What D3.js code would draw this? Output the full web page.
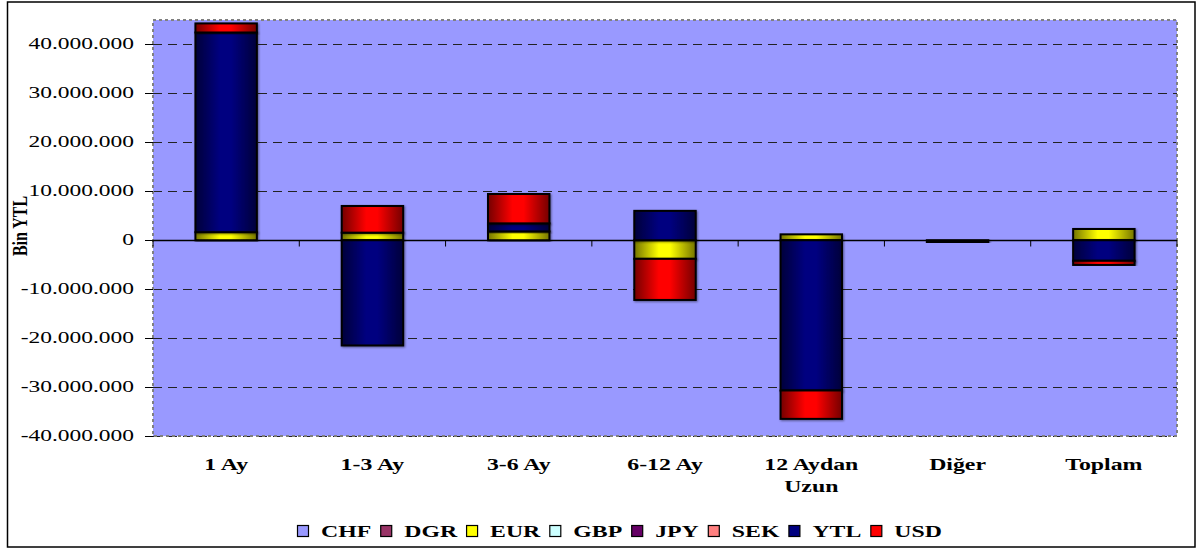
<!DOCTYPE html>
<html>
<head>
<meta charset="utf-8">
<script src="https://cdn.jsdelivr.net/npm/d3@7"></script>
<style>
  body { margin: 0; background: #fff; }
  svg { display: block; }
  text { font-family: "Liberation Serif", "Times New Roman", serif; fill: #000; }
</style>
</head>
<body>
<svg id="chart" width="1198" height="552"></svg>
<script>
// categories on the x axis (\n = line break in the label)
var categories = ["1 Ay", "1-3 Ay", "3-6 Ay", "6-12 Ay", "12 Aydan\nUzun", "Diğer", "Toplam"];
var currencies = ["CHF", "DGR", "EUR", "GBP", "JPY", "SEK", "YTL", "USD"];
var colors = ["#9999ff", "#993366", "#ffff00", "#ccffff", "#660066", "#ff8080", "#000080", "#ff0000"];

// values in Bin YTL, one per category
var valCHF = [0, 0, 0, 0, 0, 0, 0];
var valDGR = [0, 0, 0, 0, 0, 0, 0];
var valEUR = [1650000, 1550000, 1800000, -3800000, 1200000, 0, 2300000];
var valGBP = [0, 0, 0, 0, 0, 0, 0];
var valJPY = [0, 0, 0, 0, 0, 0, 0];
var valSEK = [0, 0, 0, 0, 0, 0, 0];
var valYTL = [40800000, -21500000, 1650000, 6000000, -30700000, -400000, -4200000];
var valUSD = [1850000, 5450000, 6000000, -8400000, -5800000, 0, -850000];

var yTicks = [-40000000, -30000000, -20000000, -10000000, 0, 10000000, 20000000, 30000000, 40000000];
var yTitle = "Bin YTL";

var seriesValues = [valCHF, valDGR, valEUR, valGBP, valJPY, valSEK, valYTL, valUSD];

// build rows for d3.stack
var rows = categories.map(function(c, i) {
    var r = { cat: c };
    currencies.forEach(function(k, j) { r[k] = seriesValues[j][i]; });
    return r;
});

var stacked = d3.stack()
    .keys(currencies)
    .offset(d3.stackOffsetDiverging)(rows);

var svg = d3.select("#chart");
var plot = { left: 153, right: 1177, top: 20, bottom: 436 };
var stretch = 1.36; // the original text is drawn wide

var x = d3.scaleBand()
    .domain(categories)
    .range([plot.left, plot.right])
    .paddingInner(0.58)
    .paddingOuter(0.29);

var y = d3.scaleLinear()
    .domain([-40000000, 45000000])
    .range([plot.bottom, plot.top]);

var fmt = d3.formatLocale({ decimal: ",", thousands: ".", grouping: [3], currency: ["", ""], minus: "-" }).format(",");

// gradients for the bars (dark edges, bright middle)
var defs = svg.append("defs");
colors.forEach(function(c, i) {
    var g = defs.append("linearGradient").attr("id", "grad" + i)
        .attr("x1", 0).attr("x2", 1).attr("y1", 0).attr("y2", 0);
    var dark = d3.color(c).darker(2.2).formatHex();
    g.append("stop").attr("offset", "0%").attr("stop-color", dark);
    g.append("stop").attr("offset", "40%").attr("stop-color", c);
    g.append("stop").attr("offset", "58%").attr("stop-color", c);
    g.append("stop").attr("offset", "100%").attr("stop-color", dark);
});
var shadow = defs.append("filter").attr("id", "shadow")
    .attr("x", "-20%").attr("y", "-20%").attr("width", "140%").attr("height", "140%");
shadow.append("feDropShadow").attr("dx", 1).attr("dy", 1)
    .attr("stdDeviation", 1.2).attr("flood-color", "#000").attr("flood-opacity", 0.45);

// outer chart border
svg.append("rect")
    .attr("x", 7.5).attr("y", 2).attr("width", 1187.5).attr("height", 545)
    .attr("fill", "#fff").attr("stroke", "#000").attr("stroke-width", 1.5);

// plot area
svg.append("rect")
    .attr("x", plot.left).attr("y", plot.top)
    .attr("width", plot.right - plot.left).attr("height", plot.bottom - plot.top)
    .attr("fill", "#9999ff");

// gridlines
svg.append("g").selectAll("line")
    .data(yTicks.filter(function(d) { return d != 0; }))
    .enter().append("line")
    .attr("x1", plot.left).attr("x2", plot.right)
    .attr("y1", function(d) { return Math.round(y(d)) + 0.5; })
    .attr("y2", function(d) { return Math.round(y(d)) + 0.5; })
    .attr("stroke", "#222").attr("stroke-width", 1.2)
    .attr("stroke-dasharray", "9,6");

// plot border (dashed grey)
svg.append("rect")
    .attr("x", plot.left).attr("y", plot.top)
    .attr("width", plot.right - plot.left).attr("height", plot.bottom - plot.top)
    .attr("fill", "none").attr("stroke", "#808080").attr("stroke-width", 2)
    .attr("stroke-dasharray", "3,3");

// y axis ticks and labels
var yAxis = svg.append("g");
yAxis.selectAll("line")
    .data(yTicks).enter().append("line")
    .attr("x1", 145).attr("x2", plot.left)
    .attr("y1", function(d) { return Math.round(y(d)) + 0.5; })
    .attr("y2", function(d) { return Math.round(y(d)) + 0.5; })
    .attr("stroke", "#000").attr("stroke-width", 1);
yAxis.selectAll("text")
    .data(yTicks).enter().append("text")
    .attr("transform", function(d) { return "translate(134," + (y(d) + 4.5) + ") scale(" + (stretch + 0.02) + ",1)"; })
    .attr("text-anchor", "end")
    .style("font-size", "17px")
    .text(function(d) { return fmt(d); });

// y title
svg.append("text")
    .attr("transform", "translate(27,226) rotate(-90) scale(1,1.25)")
    .attr("text-anchor", "middle")
    .style("font-size", "16px").style("font-weight", "bold")
    .attr("textLength", 60).attr("lengthAdjust", "spacingAndGlyphs")
    .text(yTitle);

// zero line + category ticks
var y0 = Math.round(y(0)) + 0.5;
svg.append("line")
    .attr("x1", plot.left).attr("x2", plot.right)
    .attr("y1", y0).attr("y2", y0)
    .attr("stroke", "#000").attr("stroke-width", 1.5);
var step = x.step();
svg.append("g").selectAll("line")
    .data(d3.range(categories.length + 1)).enter().append("line")
    .attr("x1", function(i) { return plot.left + i * step; })
    .attr("x2", function(i) { return plot.left + i * step; })
    .attr("y1", y0).attr("y2", y0 + 6)
    .attr("stroke", "#000").attr("stroke-width", 1);

// stacked bars
var layers = svg.append("g").selectAll("g")
    .data(stacked).enter().append("g")
    .attr("fill", function(d, i) { return "url(#grad" + i + ")"; });

layers.selectAll("rect")
    .data(function(d) { return d.filter(function(p) { return p[1] - p[0] != 0; }); })
    .enter().append("rect")
    .attr("x", function(p) { return x(p.data.cat); })
    .attr("width", x.bandwidth())
    .attr("y", function(p) { return y(p[1]); })
    .attr("height", function(p) { return Math.max(y(p[0]) - y(p[1]), 1); })
    .attr("stroke", "#000").attr("stroke-width", 2)
    .attr("filter", "url(#shadow)");

// category labels
var catLabels = svg.append("g").selectAll("text")
    .data(categories).enter().append("text")
    .attr("transform", function(d) { return "translate(" + (x(d) + x.bandwidth() / 2) + ",470) scale(" + stretch + ",1)"; })
    .attr("text-anchor", "middle")
    .style("font-size", "17.5px").style("font-weight", "bold");
catLabels.selectAll("tspan")
    .data(function(d) { return d.split("\n"); }).enter().append("tspan")
    .attr("x", 0)
    .attr("dy", function(d, i) { return i == 0 ? 0 : 22; })
    .text(function(d) { return d; });

// legend
var legend = svg.append("g");
var cursor = 297;
currencies.forEach(function(k, i) {
    legend.append("rect")
        .attr("x", cursor + 0.5).attr("y", 525.5)
        .attr("width", 11).attr("height", 11)
        .attr("fill", colors[i]).attr("stroke", "#000").attr("stroke-width", 1.2);
    var t = legend.append("text")
        .attr("transform", "translate(" + (cursor + 24) + ",537) scale(" + stretch + ",1)")
        .style("font-size", "17.5px").style("font-weight", "bold")
        .text(k);
    var w = t.node().getComputedTextLength() * stretch;
    cursor = cursor + 24 + w + 9;
});
</script>
</body>
</html>
